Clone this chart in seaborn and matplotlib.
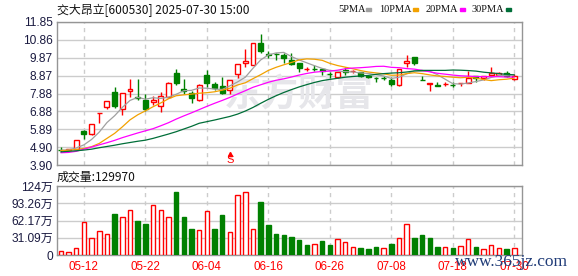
import matplotlib
matplotlib.use("Agg")
import matplotlib.pyplot as plt
import seaborn as sns
import numpy as np
import pandas as pd
from matplotlib.patches import Rectangle

# ---------------- data ----------------
dates = ["05-07", "05-08", "05-09",
         "05-12", "05-13", "05-14", "05-15", "05-16", "05-19", "05-20", "05-21", "05-22",
         "05-23", "05-26", "05-27", "05-28", "05-29", "05-30", "06-03", "06-04",
         "06-05", "06-06", "06-09", "06-10", "06-11", "06-12", "06-13", "06-16",
         "06-17", "06-18", "06-19", "06-20", "06-23", "06-24", "06-25", "06-26",
         "06-27", "06-30", "07-01", "07-02", "07-03", "07-04", "07-07", "07-08",
         "07-09", "07-10", "07-11", "07-14", "07-15", "07-16", "07-17", "07-18",
         "07-21", "07-22", "07-23", "07-24", "07-25", "07-28", "07-29", "07-30"]

opens = [4.74, 4.75, 4.79, 5.80, 5.60, 6.77, 7.12, 7.98, 7.03, 8.00, 7.66, 7.49,
         7.39, 7.16, 7.67, 8.99, 8.13, 7.89, 7.49, 8.92, 8.41, 8.30, 8.05, 8.96,
         9.55, 9.46, 10.70, 10.05, 10.08, 10.00, 9.75, 9.55, 9.22, 9.24, 9.22, 8.97,
         8.81, 9.20, 9.14, 9.05, 8.87, 8.76, 8.76, 8.65, 8.32, 9.55, 9.92, 8.62,
         8.43, 8.33, 8.40, 8.37, 8.45, 8.48, 8.87, 8.74, 8.92, 8.92, 9.02, 8.69]
highs = [4.89, 4.80, 5.27, 5.82, 6.17, 6.79, 7.47, 8.26, 7.93, 8.69, 8.69, 7.86,
         7.71, 7.95, 8.54, 9.24, 8.69, 8.00, 8.38, 9.20, 8.50, 8.81, 8.65, 9.49,
         10.34, 10.67, 11.20, 10.21, 10.12, 10.12, 10.12, 9.55, 9.37, 9.46, 9.22, 9.05,
         9.05, 9.33, 9.16, 9.05, 8.87, 8.77, 8.87, 8.77, 9.25, 10.03, 9.92, 8.83,
         8.45, 8.50, 8.54, 8.52, 8.48, 9.11, 8.87, 8.85, 9.37, 9.07, 9.11, 8.96]
lows = [4.64, 4.73, 4.77, 5.32, 5.58, 6.24, 7.01, 7.08, 6.70, 7.67, 7.49, 6.90,
        7.21, 6.84, 7.65, 8.37, 7.82, 7.34, 7.46, 8.22, 8.08, 7.82, 7.82, 8.74,
        9.37, 9.44, 10.15, 9.85, 9.74, 9.55, 9.44, 9.05, 9.11, 9.14, 8.91, 8.74,
        8.74, 8.92, 9.02, 8.81, 8.72, 8.50, 8.63, 8.28, 8.30, 9.37, 9.46, 8.60,
        8.00, 8.31, 8.30, 8.26, 8.30, 8.48, 8.54, 8.63, 8.83, 8.88, 8.78, 8.63]
closes = [4.72, 4.79, 5.27, 5.61, 6.17, 6.79, 7.47, 7.16, 7.91, 8.13, 7.62, 6.99,
          7.54, 7.71, 8.48, 8.44, 7.99, 7.62, 8.36, 8.44, 8.17, 7.89, 8.63, 9.49,
          9.70, 10.67, 10.21, 10.03, 10.05, 9.85, 9.51, 9.27, 9.24, 9.22, 9.11, 8.96,
          9.05, 9.09, 9.15, 8.87, 8.77, 8.74, 8.74, 8.41, 9.25, 9.70, 9.55, 8.60,
          8.45, 8.31, 8.42, 8.33, 8.48, 8.74, 8.74, 8.85, 9.02, 9.02, 8.83, 8.87]

ma5 = [4.72, 4.74, 4.85, 5.02, 5.32, 5.73, 6.26, 6.64, 7.10, 7.49, 7.66, 7.56,
       7.64, 7.60, 7.67, 7.83, 8.03, 8.05, 8.18, 8.17, 8.12, 8.10, 8.30, 8.52,
       8.78, 9.28, 9.74, 10.02, 10.13, 10.16, 9.93, 9.74, 9.58, 9.42, 9.27, 9.16,
       9.12, 9.09, 9.07, 9.02, 8.99, 8.92, 8.85, 8.71, 8.78, 8.97, 9.13, 9.10,
       9.11, 8.92, 8.67, 8.42, 8.40, 8.46, 8.54, 8.63, 8.77, 8.87, 8.89, 8.92]
ma10 = [4.70, 4.72, 4.76, 4.82, 4.92, 5.10, 5.38, 5.66, 6.02, 6.41, 6.69, 6.91,
        7.14, 7.35, 7.58, 7.75, 7.80, 7.84, 7.89, 7.92, 7.97, 8.06, 8.17, 8.35,
        8.47, 8.70, 8.92, 9.16, 9.33, 9.47, 9.60, 9.74, 9.80, 9.78, 9.72, 9.55,
        9.43, 9.34, 9.25, 9.15, 9.07, 9.02, 8.97, 8.89, 8.90, 8.98, 9.03, 8.98,
        8.91, 8.85, 8.82, 8.78, 8.75, 8.78, 8.73, 8.65, 8.59, 8.64, 8.67, 8.73]
ma20 = [4.58, 4.60, 4.66, 4.78, 4.90, 5.02, 5.14, 5.27, 5.42, 5.55, 5.68, 5.80,
        5.92, 6.08, 6.25, 6.45, 6.63, 6.80, 6.98, 7.16, 7.33, 7.49, 7.66, 7.85,
        8.03, 8.22, 8.36, 8.50, 8.61, 8.69, 8.79, 8.90, 8.99, 9.06, 9.10, 9.12,
        9.17, 9.25, 9.29, 9.31, 9.34, 9.38, 9.39, 9.33, 9.31, 9.26, 9.23, 9.16,
        9.08, 9.00, 8.95, 8.90, 8.86, 8.84, 8.82, 8.81, 8.81, 8.81, 8.79, 8.79]
ma30 = [4.63, 4.66, 4.69, 4.73, 4.78, 4.86, 4.93, 5.00, 5.08, 5.15, 5.22, 5.28,
        5.38, 5.50, 5.62, 5.75, 5.90, 6.05, 6.22, 6.31, 6.40, 6.50, 6.60, 6.73,
        6.90, 7.10, 7.33, 7.55, 7.75, 7.93, 8.09, 8.24, 8.37, 8.49, 8.59, 8.66,
        8.72, 8.78, 8.82, 8.85, 8.88, 8.94, 8.98, 9.01, 9.03, 9.07, 9.13, 9.16,
        9.16, 9.16, 9.16, 9.18, 9.17, 9.15, 9.12, 9.06, 9.02, 8.98, 8.94, 8.91]

# volume in 万 (10k lots)
volumes = [7.2, 5.4, 12.0, 59.2, 29.9, 42.4, 37.1, 73.5, 67.6, 81.9, 61.0, 55.6,
           89.7, 81.9, 67.6, 113.0, 68.2, 46.6, 44.2, 80.1, 46.6, 71.7, 41.3, 107.6,
           114.2, 46.0, 95.1, 53.8, 37.7, 35.9, 32.3, 26.9, 17.9, 19.7, 25.1, 17.9,
           28.1, 23.3, 13.7, 12.6, 10.8, 14.3, 12.0, 19.7, 29.9, 55.0, 30.5, 35.9,
           30.5, 14.3, 13.7, 12.6, 15.5, 28.1, 14.3, 10.2, 17.3, 12.0, 10.2, 12.997]
vol_up = "rrrrrrrgrrggrrrgggrrggrrrrgggggggrggrrrgggrgrrggggrgrrgrrrgr"

price_ticks = ["3.90", "4.90", "5.89", "6.88", "7.88", "8.87", "9.87", "10.86", "11.85"]
vol_ticks = ["0", "31.09万", "62.17万", "93.26万", "124万"]
vol_max = 124.35
date_ticks = ["05-12", "05-22", "06-04", "06-16", "06-26", "07-08", "07-18", "07-30"]
title = "交大昂立[600530] 2025-07-30 15:00"
vol_title = "成交量:129970"
legend_names = ["5PMA", "10PMA", "20PMA", "30PMA"]
signal_day = "06-09"

# ---------------- style ----------------
sns.set_style("white")
plt.rcParams['font.family'] = ['Liberation Sans', 'Noto Sans CJK SC', 'DejaVu Sans']

RED = "#FF0000"
GREEN = "#008000"
MA_COLORS = ["#A0A0A0", "#F2A100", "#FF00FF", "#006E38"]
GRID = "#CCCCCC"
FRAME = "#959595"
TICKC = "#1A1A40"

W, H = 578, 276
fig = plt.figure(figsize=(W / 100, H / 100), dpi=100)
L, R = 57, 522
ax = fig.add_axes([L / W, 1 - 165 / H, (R - L) / W, (165 - 22) / H])
axv = fig.add_axes([L / W, 1 - 255 / H, (R - L) / W, (255 - 186) / H])

n = len(dates)
x = np.arange(n)
o = np.array(opens); c = np.array(closes); hi = np.array(highs); lo = np.array(lows)
is_up = c >= o
edge = [RED if u else GREEN for u in is_up]
face = ["white" if u else GREEN for u in is_up]

# grid & frame
pmin, pmax = 3.90, 11.85
yt = np.linspace(pmin, pmax, len(price_ticks))
tick_idx = [dates.index(d) for d in date_ticks]
for a in (ax, axv):
    a.set_xlim(-0.5, 60.0)
    a.set_xticks(tick_idx)
    a.grid(axis="x", color=GRID, lw=1, ls=(0, (3, 3)))
    a.grid(axis="y", color=GRID, lw=1, ls="-")
    a.set_axisbelow(True)
    for s in a.spines.values():
        s.set_color(FRAME)
        s.set_linewidth(1)

# watermark
ax.text(0.52, 0.49, "东方财富", transform=ax.transAxes, ha="center", va="center",
        fontsize=27, color="#E6E6EA", weight="bold", family=["Noto Sans CJK SC"], zorder=1)

# candles
ax.vlines(x, lo, hi, colors=edge, lw=1, zorder=3)
body = np.maximum(np.abs(c - o), 0.004)
ax.bar(x, body, bottom=np.minimum(o, c), width=0.64, color=face, edgecolor=edge,
       linewidth=1, zorder=4)

# moving averages
ma_df = pd.DataFrame({"x": x, "5PMA": ma5, "10PMA": ma10, "20PMA": ma20, "30PMA": ma30})
for name, col in zip(legend_names, MA_COLORS):
    sns.lineplot(data=ma_df, x="x", y=name, ax=ax, color=col, lw=0.9, zorder=5)

ax.set_ylim(pmin, pmax)
ax.set_yticks(yt)
ax.set_yticklabels(price_ticks)
ax.tick_params(axis="y", length=0, pad=3, labelsize=8.6, labelcolor=TICKC)
ax.tick_params(axis="x", length=0, labelbottom=False)
ax.set_xlabel(""); ax.set_ylabel("")

# S signal
si = dates.index(signal_day)
ax.text(si, 4.19, "S", ha="center", va="center", fontsize=8, color=RED, zorder=6)
ax.plot([si], [4.52], marker="^", ms=3, color=RED, zorder=6)

# volume
vedge = [RED if v == "r" else GREEN for v in vol_up]
vface = ["white" if v == "r" else GREEN for v in vol_up]
axv.bar(x, volumes, width=0.58, color=vface, edgecolor=vedge, linewidth=1, zorder=3)
axv.set_ylim(0, vol_max)
axv.set_yticks(np.linspace(0, vol_max, len(vol_ticks)))
axv.set_yticklabels(vol_ticks)
axv.set_xticklabels(date_ticks)
axv.tick_params(axis="y", length=0, pad=3, labelsize=8.6, labelcolor=TICKC)
axv.tick_params(axis="x", length=0, pad=4, labelsize=8.4, labelcolor=RED)

# titles
fig.text(L / W, 1 - 10 / H, title, ha="left", va="center", fontsize=8.6,
         family=["Noto Sans CJK SC", "DejaVu Sans"], color="#111111")
fig.text(L / W, 1 - 177 / H, vol_title, ha="left", va="center", fontsize=8.6,
         family=["Noto Sans CJK SC", "DejaVu Sans"], color="#111111")

# legend
leg_x = [338, 379, 426, 472]
sq_x = [366, 413, 460, 506]
for name, col, tx, sx in zip(legend_names, MA_COLORS, leg_x, sq_x):
    fig.text(tx / W, 1 - 9 / H, name, ha="left", va="center", fontsize=7.5,
             family=["Liberation Serif"], color="#111111")
    fig.patches.append(Rectangle((sx / W, 1 - 10.8 / H), 5 / W, 3 / H, color=col,
                                 transform=fig.transFigure, figure=fig))

# site watermark
fig.text(455 / W, 1 - 262 / H, "www.365jz.com", ha="left", va="center", fontsize=12.5,
         family=["Liberation Serif"], color="#203C78")

fig.savefig("out.png", dpi=100)
